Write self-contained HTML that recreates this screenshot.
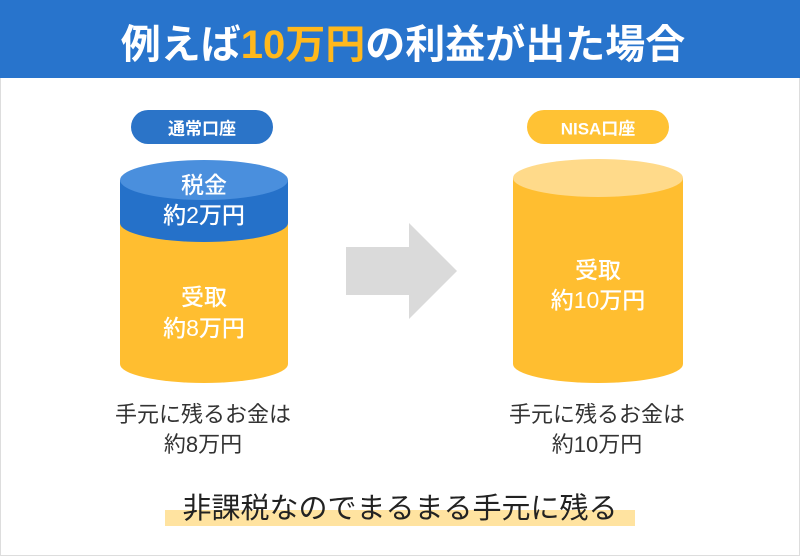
<!DOCTYPE html>
<html><head><meta charset="utf-8"><style>
body{margin:0;width:800px;height:556px;overflow:hidden;background:#fff;font-family:"Liberation Sans","Noto Sans CJK JP",sans-serif;}
.t{position:absolute;white-space:nowrap;transform:translate(-50%,-50%);}
.w{font-size:23px;font-weight:500;color:#fff;}
</style></head><body>
<div style="position:absolute;left:0;top:0;width:800px;height:556px;box-sizing:border-box;border:1px solid #ddd;"></div>
<div style="position:absolute;left:0;top:0;width:800px;height:78px;background:#2874CC;"></div>
<div class="t" style="left:403px;top:41px;font-size:40px;font-weight:bold;color:#fff;">例えば<span style="color:#FFB81C">10万円</span>の利益が出た場合</div>
<svg width="800" height="556" style="position:absolute;left:0;top:0">
<rect x="131" y="110" width="142" height="34" rx="17" fill="#2B74C8"/>
<rect x="527" y="110" width="142" height="34" rx="17" fill="#FFC234"/>
<path d="M120 223 L120 364 A84 19 0 0 0 288 364 L288 223 Z" fill="#FFBE30"/>
<path d="M120 180 L120 223 A84 19 0 0 0 288 223 L288 180 Z" fill="#2571C9"/>
<ellipse cx="204" cy="180" rx="84" ry="20" fill="#4A8FDD"/>
<path d="M513 178 L513 364 A85 19 0 0 0 683 364 L683 178 Z" fill="#FFBE30"/>
<ellipse cx="598" cy="178" rx="85" ry="19" fill="#FFDA8A"/>
<path d="M346 247 L409 247 L409 223 L457 271 L409 319 L409 295 L346 295 Z" fill="#DADADA"/>
<rect x="165" y="510" width="470" height="16" fill="#FFE3A0"/>
</svg>
<div class="t" style="left:202px;top:127px;font-size:17px;font-weight:bold;color:#fff;">通常口座</div>
<div class="t" style="left:598px;top:127px;font-size:17px;font-weight:bold;color:#fff;">NISA口座</div>
<div class="t w" style="left:204px;top:183px;">税金</div>
<div class="t w" style="left:204px;top:213px;">約2万円</div>
<div class="t w" style="left:204px;top:295px;">受取</div>
<div class="t w" style="left:204px;top:326px;">約8万円</div>
<div class="t w" style="left:598px;top:268px;">受取</div>
<div class="t w" style="left:598px;top:298px;">約10万円</div>
<div class="t" style="left:203px;top:413px;font-size:22px;color:#333;">手元に残るお金は</div>
<div class="t" style="left:203px;top:443px;font-size:22px;color:#333;">約8万円</div>
<div class="t" style="left:597px;top:413px;font-size:22px;color:#333;">手元に残るお金は</div>
<div class="t" style="left:597px;top:443px;font-size:22px;color:#333;">約10万円</div>
<div class="t" style="left:400px;top:506px;font-size:29px;color:#222;">非課税なのでまるまる手元に残る</div>
</body></html>
